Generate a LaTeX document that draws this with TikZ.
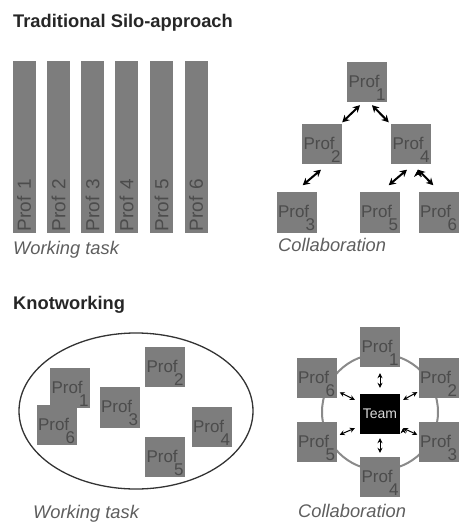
\documentclass[tikz,border=0pt]{standalone}
\usepackage{fontspec}
\setmainfont{Liberation Sans}
\usepackage{xcolor}
\usepackage{tikz}
\usetikzlibrary{arrows.meta}

\definecolor{boxgray}{HTML}{7D7D7D}
\definecolor{txtgray}{HTML}{4C4C4C}
\definecolor{capgray}{HTML}{5E5E5E}
\definecolor{ringgray}{HTML}{8A8A8A}

\newcommand{\proftext}[1]{\parbox[c][37pt][b]{37pt}{\fontsize{17}{13}\selectfont
  \makebox[37pt][l]{Prof}\\\makebox[37pt][r]{#1}}}

\begin{document}
\begin{tikzpicture}[x=1pt, y=-1pt,
    prof/.style={fill=boxgray, text=txtgray, inner sep=1.5pt, minimum size=40pt},
    silo/.style={fill=boxgray, text=txtgray, rotate=90, minimum width=172pt,
      minimum height=23pt, inner sep=0pt, text width=168pt, align=left,
      font=\fontsize{19}{19}\selectfont},
    heading/.style={anchor=base west, inner sep=0pt, text=black!85,
      font=\bfseries\fontsize{18.3}{20}\selectfont},
    caption/.style={anchor=base west, inner sep=0pt, text=capgray,
      font=\itshape\fontsize{18.3}{20}\selectfont},
    dbl/.style={{Stealth[length=7pt,width=7.5pt]}-{Stealth[length=7pt,width=7.5pt]}, line width=2pt},
    sdbl/.style={{Stealth[length=5pt,width=5pt]}-{Stealth[length=5pt,width=5pt]}, line width=1pt}]
    \useasboundingbox (0, 0) rectangle (459, 525);

    % silo approach
    \node[heading](h1) at (13, 27) {Traditional Silo-approach};
    \node[silo](s1) at (24, 147) {Prof 1};
    \node[silo](s2) at (58.5, 147) {Prof 2};
    \node[silo](s3) at (92.5, 147) {Prof 3};
    \node[silo](s4) at (126.5, 147) {Prof 4};
    \node[silo](s5) at (161.5, 147) {Prof 5};
    \node[silo](s6) at (196, 147) {Prof 6};
    \node[caption](w1) at (13, 254) {Working task};

    \node[prof](p1) at (367, 82) {\proftext{1}};
    \node[prof](p2) at (322, 143.5) {\proftext{2}};
    \node[prof](p4) at (411, 143.5) {\proftext{4}};
    \node[prof](p3) at (296.5, 212.5) {\proftext{3}};
    \node[prof](p5) at (379.5, 212.5) {\proftext{5}};
    \node[prof](p6) at (438.5, 212.5) {\proftext{6}};
    \node[caption](c1) at (278, 251) {Collaboration};

    \draw[dbl] ([shift={(-7,3)}]p1.south) edge ([shift={(0,-1)}]p2.north east)
               ([shift={(5,3)}]p1.south) edge ([shift={(-2,-1)}]p4.north west)
               ([shift={(-1,6)}]p2.south) edge ([shift={(-14,-7)}]p3.north east)
               ([shift={(-4,6)}]p4.south) edge ([shift={(-11,-7)}]p5.north east)
               ([shift={(7,6)}]p4.south) edge ([shift={(15,-7)}]p6.north west);

    % knotworking
    \node[heading](h2) at (13, 309) {Knotworking};
    \draw[line width=1.3pt, black!80] (136, 411) ellipse [x radius=117, y radius=78];
    \node[prof](k1) at (70, 388) {\proftext{1}};
    \node[prof](k6) at (56.5, 425) {\proftext{6}};
    \node[prof](k3) at (119.5, 407.5) {\proftext{3}};
    \node[prof](k2) at (165, 367) {\proftext{2}};
    \node[prof](k4) at (211.5, 427) {\proftext{4}};
    \node[prof](k5) at (165, 457) {\proftext{5}};
    \node[caption](w2) at (33, 518) {Working task};

    \draw[line width=2pt, ringgray] (380, 412) circle [radius=58];
    \node[prof](t1) at (380, 347) {\proftext{1}};
    \node[prof](t6) at (316.5, 378) {\proftext{6}};
    \node[prof](t2) at (438.5, 378) {\proftext{2}};
    \node[prof](t5) at (316.5, 442) {\proftext{5}};
    \node[prof](t3) at (438.5, 442) {\proftext{3}};
    \node[prof](t4) at (380, 477) {\proftext{4}};
    \node[fill=black, text=white!85!black, minimum size=40pt, inner sep=0pt,
      font=\fontsize{14}{14}\selectfont](team) at (380, 414) {\textsc{Team}};
    \node[caption](c2) at (298, 517) {Collaboration};

    \draw[sdbl] ([shift={(0,6)}]t1.south) edge ([shift={(0,-6)}]team.north)
                ([shift={(0,4)}]team.south) edge ([shift={(0,-4)}]t4.north)
                ([shift={(3,-6)}]t6.south east) edge ([shift={(-5,6)}]team.north west)
                ([shift={(3,13)}]t5.north east) edge ([shift={(-5,-6)}]team.south west)
                ([shift={(3,6)}]team.north east) edge ([shift={(-1,-6)}]t2.south west)
                ([shift={(3,-6)}]team.south east) edge ([shift={(-1,13)}]t3.north west);
\end{tikzpicture}
\end{document}
